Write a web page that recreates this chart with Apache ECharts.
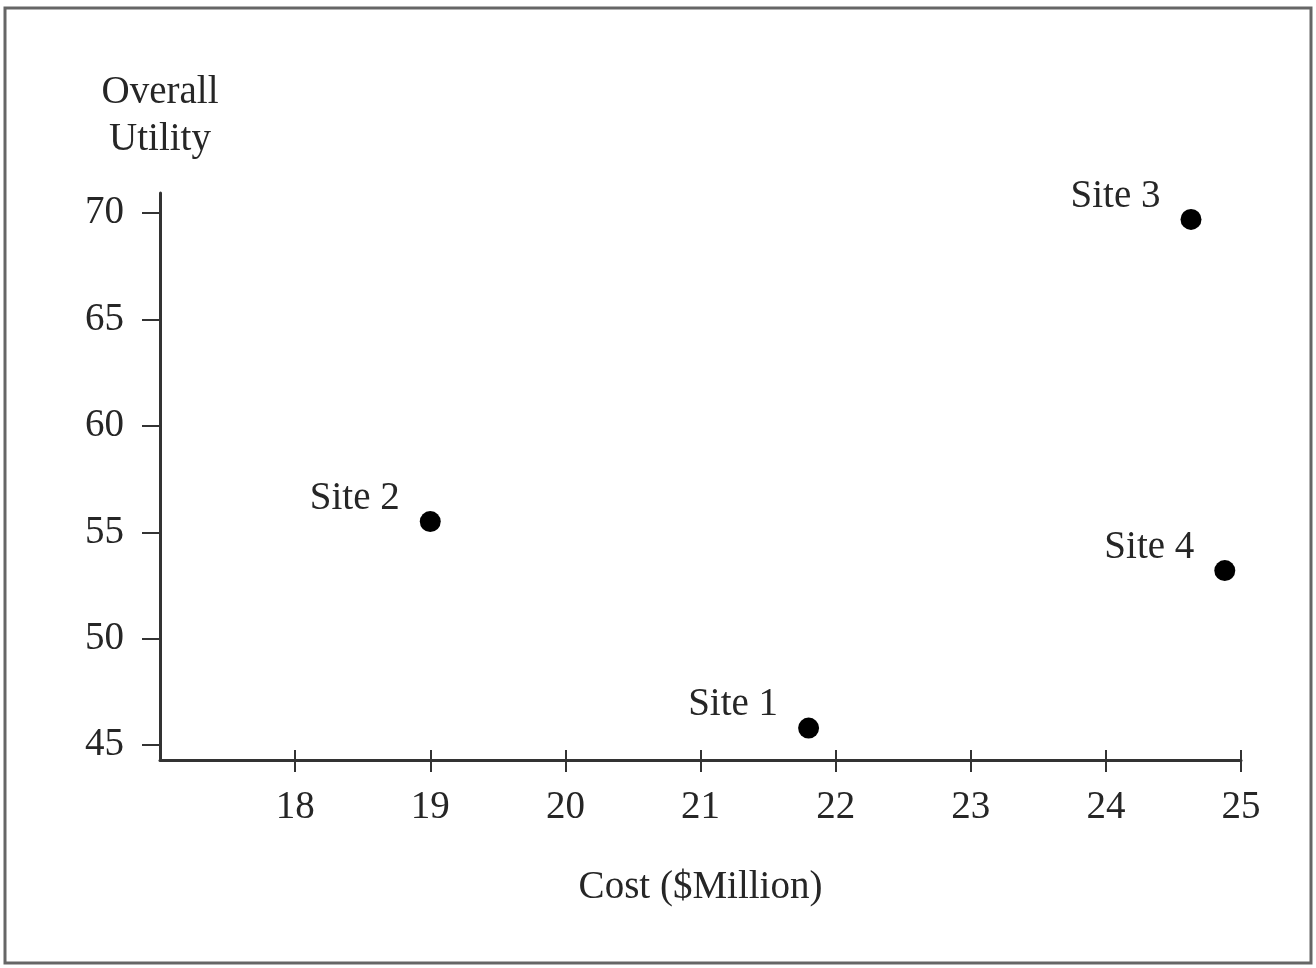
<!DOCTYPE html>
<html>
<head>
<meta charset="utf-8">
<script src="https://cdn.jsdelivr.net/npm/echarts@6/dist/echarts.min.js"></script>
<style>
html,body{margin:0;padding:0;background:#fff;}
#c{width:1316px;height:968px;}
</style>
</head>
<body>
<div id="c"></div>
<script>
var siteNames = ['Site 1', 'Site 2', 'Site 3', 'Site 4'];
var costValues = [21.8, 19.0, 24.63, 24.88];
var utilityValues = [45.8, 55.5, 69.7, 53.2];
var xTicks = [18, 19, 20, 21, 22, 23, 24, 25];
var yTicks = [45, 50, 55, 60, 65, 70];

var points = siteNames.map(function (n, i) {
  return { name: n, value: [costValues[i], utilityValues[i]] };
});

var font = 'Liberation Serif';
var fs = 39;
var txt = '#262626';
var chart = echarts.init(document.getElementById('c'), null, { renderer: 'canvas' });
chart.setOption({
  backgroundColor: '#fff',
  animation: false,
  graphic: [{
    type: 'rect',
    shape: { x: 5, y: 8, width: 1306, height: 955 },
    style: { fill: 'none', stroke: '#666', lineWidth: 3 },
    z: 100
  }],
  grid: { left: 160, right: 75, top: 193, bottom: 208 },
  xAxis: [{
    type: 'value', min: 17, max: 25,
    name: 'Cost ($Million)', nameLocation: 'middle', nameGap: 108,
    nameTextStyle: { fontFamily: font, fontSize: fs, color: txt },
    axisLine: { show: true, lineStyle: { color: '#333', width: 3 } },
    axisTick: { show: true, length: 12, lineStyle: { color: '#333', width: 2 }, customValues: xTicks },
    axisLabel: { fontFamily: font, fontSize: fs, color: txt, margin: 28, customValues: xTicks },
    splitLine: { show: false }
  }, {
    type: 'value', min: 17, max: 25, position: 'bottom',
    axisLine: { show: false },
    axisTick: { show: true, inside: true, length: 10, lineStyle: { color: '#333', width: 2 }, customValues: xTicks },
    axisLabel: { show: false },
    splitLine: { show: false }
  }],
  yAxis: {
    type: 'value', min: 44.3, max: 70.94,
    name: 'Overall\nUtility', nameLocation: 'end', nameGap: 30,
    nameTextStyle: { fontFamily: font, fontSize: fs, color: txt, lineHeight: 47, align: 'center', verticalAlign: 'bottom' },
    axisLine: { show: true, onZero: false, lineStyle: { color: '#333', width: 3 } },
    axisTick: { show: true, length: 18, lineStyle: { color: '#333', width: 2 }, customValues: yTicks },
    axisLabel: { fontFamily: font, fontSize: fs, color: txt, margin: 36, customValues: yTicks },
    splitLine: { show: false }
  },
  series: [{
    type: 'scatter',
    data: points,
    symbol: 'circle',
    symbolSize: 21,
    itemStyle: { color: '#000', opacity: 1 },
    label: {
      show: true,
      position: 'left',
      distance: 20,
      offset: [0, -23],
      formatter: '{b}',
      opacity: 1,
      fontFamily: font, fontSize: fs, color: txt
    }
  }]
});
</script>
</body>
</html>
